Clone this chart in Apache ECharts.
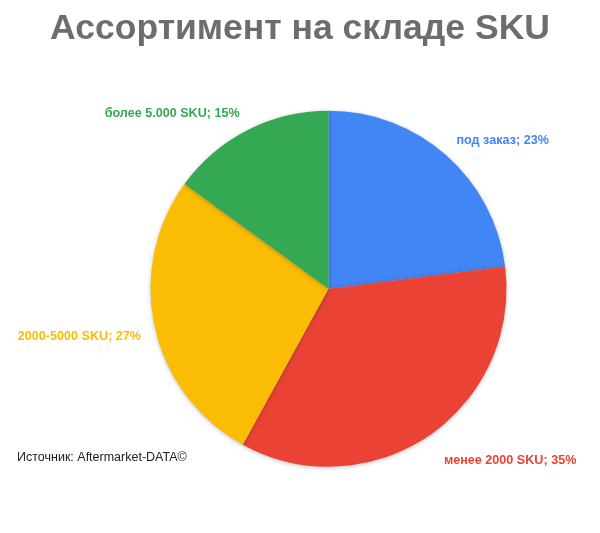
<!DOCTYPE html>
<html>
<head>
<meta charset="utf-8">
<script src="https://cdn.jsdelivr.net/npm/echarts@6/dist/echarts.min.js"></script>
<style>html,body{margin:0;padding:0;background:#fff;}#c{width:600px;height:533px;}</style>
</head>
<body>
<div id="c"></div>
<script>
const categories = ['под заказ', 'менее 2000 SKU', '2000-5000 SKU', 'более 5.000 SKU'];
const values = [23, 35, 27, 15];
const colors = ['#4285F4', '#EA4335', '#FBBC04', '#34A853'];
const titleText = 'Ассортимент на складе SKU';
const sourceText = 'Источник: Aftermarket-DATA©';

const CX = 328.5, CY = 288.7;
const labelLens = [11, 22, 11, 11];

const chart = echarts.init(document.getElementById('c'), null, {renderer: 'canvas'});
chart.setOption({
  backgroundColor: '#ffffff',
  animation: false,
  title: {
    text: titleText,
    left: 'center',
    top: 6,
    textStyle: {fontFamily: 'Liberation Sans, Arial', fontSize: 35.5, fontWeight: 'bold', color: '#6f6d6c'}
  },
  graphic: [{
    type: 'text',
    left: 17,
    top: 451,
    style: {text: sourceText, fontFamily: 'Liberation Sans, Arial', fontSize: 12.5, fill: '#222222'}
  }],
  series: [{
    type: 'pie',
    center: [CX, CY],
    radius: 178,
    startAngle: 90,
    clockwise: true,
    avoidLabelOverlap: false,
    data: categories.map((c, i) => ({
      name: c,
      value: values[i],
      itemStyle: {color: colors[i]},
      label: {color: colors[i]},
      labelLine: {length: labelLens[i]}
    })),
    itemStyle: {shadowBlur: 4, shadowColor: 'rgba(0,0,0,0.25)', shadowOffsetY: 1},
    label: {
      show: true,
      position: 'outside',
      formatter: '{b}; {d}%',
      fontFamily: 'Liberation Sans, Arial',
      fontSize: 12.6,
      fontWeight: 'bold',
      distanceToLabelLine: 3
    },
    labelLine: {show: false, length: 11, length2: 0},
    labelLayout: function (p) {
      const midY = p.labelRect.y + p.labelRect.height / 2;
      return {verticalAlign: midY < CY ? 'bottom' : 'top'};
    }
  }]
});
</script>
</body>
</html>
